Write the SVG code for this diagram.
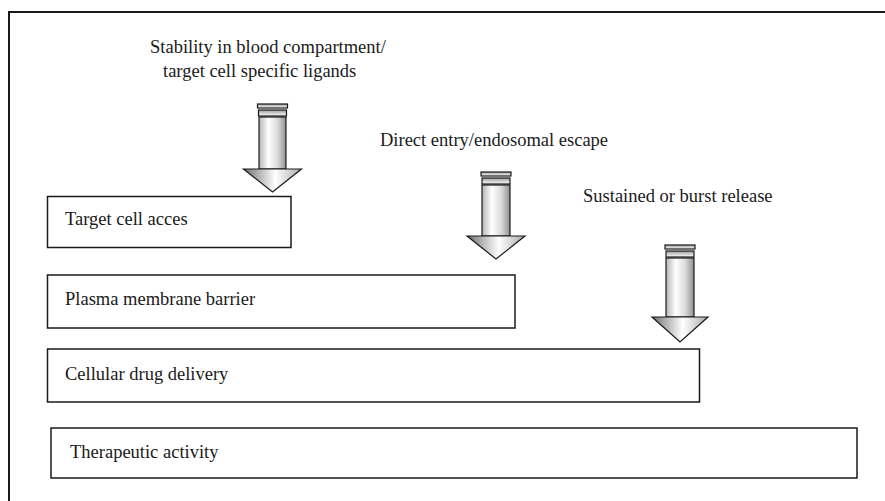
<svg xmlns="http://www.w3.org/2000/svg" width="885" height="501" viewBox="0 0 885 501">
<style>
.box{fill:#fff;stroke:#1a1a1a;stroke-width:1.5}
.t{font-family:"Liberation Serif","Times New Roman",serif;font-size:18.5px;fill:#1a1a1a}
.bar{fill:url(#gBar);stroke:#1a1a1a;stroke-width:1.2}
.shaft{fill:url(#gShaft);stroke:#1a1a1a;stroke-width:1.2}
.head{fill:url(#gHead);stroke:#1a1a1a;stroke-width:1.2;stroke-linejoin:miter}
</style>
<defs>
<linearGradient id="gShaft" x1="0" y1="0" x2="1" y2="0">
<stop offset="0" stop-color="#b5b5b5"/>
<stop offset="0.35" stop-color="#ffffff"/>
<stop offset="0.7" stop-color="#d8d8d8"/>
<stop offset="1" stop-color="#8f8f8f"/>
</linearGradient>
<linearGradient id="gHead" x1="0" y1="0" x2="1" y2="0">
<stop offset="0" stop-color="#6e6e6e"/>
<stop offset="0.55" stop-color="#ffffff"/>
<stop offset="1" stop-color="#a8a8a8"/>
</linearGradient>
<linearGradient id="gBar" x1="0" y1="0" x2="0" y2="1">
<stop offset="0" stop-color="#9a9a9a"/>
<stop offset="1" stop-color="#ffffff"/>
</linearGradient>
</defs>
<path d="M9 501 V12 H885" fill="none" stroke="#1a1a1a" stroke-width="2"/>
<g id="label-stability">
<text class="t" x="150" y="53">Stability in blood compartment/</text>
<text class="t" x="163" y="77">target cell specific ligands</text>
</g>
<g id="label-direct">
<text class="t" x="380" y="146">Direct entry/endosomal escape</text>
</g>
<g id="label-sustained">
<text class="t" x="583" y="202">Sustained or burst release</text>
</g>
<g id="connectors">
<g id="arrow1" transform="translate(272.5,104)">
<rect class="bar" x="-15" y="0" width="30" height="4"/>
<rect class="bar" x="-14" y="6" width="28" height="6"/>
<rect class="shaft" x="-13.5" y="13" width="27" height="52"/>
<path class="head" d="M-29 65 H29 L0 88 Z"/>
</g>
<g id="arrow2" transform="translate(496,172)">
<rect class="bar" x="-15" y="0" width="30" height="4"/>
<rect class="bar" x="-14" y="6" width="28" height="6"/>
<rect class="shaft" x="-14" y="13" width="28" height="51"/>
<path class="head" d="M-29 64 H29 L0 87 Z"/>
</g>
<g id="arrow3" transform="translate(680,245)">
<rect class="bar" x="-15" y="0" width="30" height="4"/>
<rect class="bar" x="-14" y="6" width="28" height="6"/>
<rect class="shaft" x="-14" y="13" width="28" height="59"/>
<path class="head" d="M-28 72 H28 L0 97 Z"/>
</g>
</g>
<g id="node-target">
<rect class="box" x="47.5" y="196.5" width="243.5" height="51"/>
<text class="t" x="65" y="225">Target cell acces</text>
</g>
<g id="node-plasma">
<rect class="box" x="47.5" y="275" width="467.5" height="53"/>
<text class="t" x="65" y="305">Plasma membrane barrier</text>
</g>
<g id="node-cellular">
<rect class="box" x="47.5" y="349" width="652" height="53"/>
<text class="t" x="65" y="380">Cellular drug delivery</text>
</g>
<g id="node-therapeutic">
<rect class="box" x="51" y="428" width="806" height="50"/>
<text class="t" x="70" y="458">Therapeutic activity</text>
</g>
</svg>
